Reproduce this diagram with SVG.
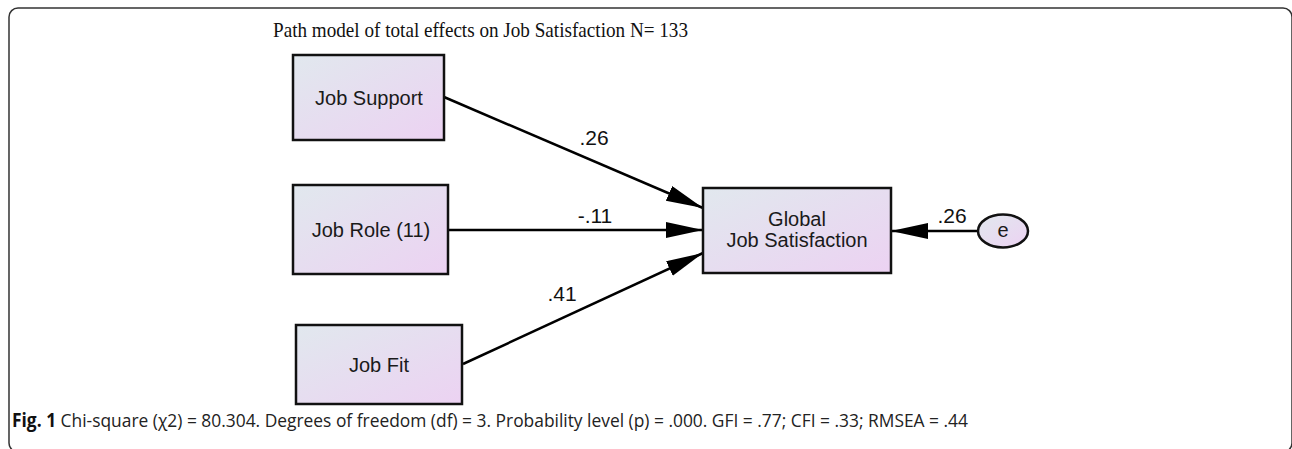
<svg xmlns="http://www.w3.org/2000/svg" width="1292" height="449" viewBox="0 0 1292 449">
<defs>
<linearGradient id="fill" x1="0" y1="0" x2="1" y2="1">
<stop offset="0" stop-color="#e1e8ee"/>
<stop offset="1" stop-color="#ecd2f2"/>
</linearGradient>
<marker id="ah" markerUnits="userSpaceOnUse" markerWidth="38" markerHeight="18" refX="37" refY="8" orient="auto">
<path d="M0,0 L37,8 L0,16 Z" fill="#000"/>
</marker>
<style>
.box{fill:url(#fill);stroke:#111;stroke-width:2.5}
.nt{font-family:"Liberation Sans",Arial,sans-serif;font-size:20px;fill:#1a1a1a;text-anchor:middle}
.lb{font-family:"Liberation Sans",Arial,sans-serif;font-size:21px;fill:#111;text-anchor:middle}
.edge{stroke:#000;stroke-width:2.5;fill:none;marker-end:url(#ah)}
</style>
</defs>
<rect x="9" y="8" width="1283" height="444" rx="9" fill="none" stroke="#333" stroke-width="1.5"/>
<text x="273" y="37" font-family="'Liberation Serif','Times New Roman',serif" font-size="21" fill="#111" textLength="415" lengthAdjust="spacingAndGlyphs">Path model of total effects on Job Satisfaction N= 133</text>
<g id="connectors">
<line class="edge" x1="444" y1="97" x2="703" y2="208"/>
<line class="edge" x1="448" y1="230" x2="703" y2="230"/>
<line class="edge" x1="463" y1="364" x2="703" y2="253"/>
<line class="edge" x1="978" y1="231" x2="891" y2="231"/>
<text class="lb" x="594" y="145">.26</text>
<text class="lb" x="595" y="223">-.11</text>
<text class="lb" x="562" y="301">.41</text>
<text class="lb" x="952" y="223">.26</text>
</g>
<g id="job-support">
<rect class="box" x="293" y="55" width="151" height="85"/>
<text class="nt" x="369" y="105">Job Support</text>
</g>
<g id="job-role">
<rect class="box" x="293" y="185" width="155" height="89"/>
<text class="nt" x="371" y="237">Job Role (11)</text>
</g>
<g id="job-fit">
<rect class="box" x="296" y="325" width="166" height="79"/>
<text class="nt" x="379" y="372">Job Fit</text>
</g>
<g id="global">
<rect class="box" x="703" y="188" width="188" height="85"/>
<text class="nt" x="797" y="226">Global</text>
<text class="nt" x="797" y="247">Job Satisfaction</text>
</g>
<g id="e">
<ellipse cx="1003" cy="231" rx="25" ry="16.5" fill="url(#fill)" stroke="#111" stroke-width="2.5"/>
<text class="nt" x="1003" y="237" font-size="17">e</text>
</g>
<text x="12" y="427" font-family="'Open Sans','Noto Sans',sans-serif" font-size="19" fill="#222" textLength="956" lengthAdjust="spacingAndGlyphs"><tspan font-weight="bold" fill="#111">Fig. 1</tspan> Chi-square (χ2) = 80.304. Degrees of freedom (df) = 3. Probability level (p) = .000. GFI = .77; CFI = .33; RMSEA = .44</text>
</svg>
